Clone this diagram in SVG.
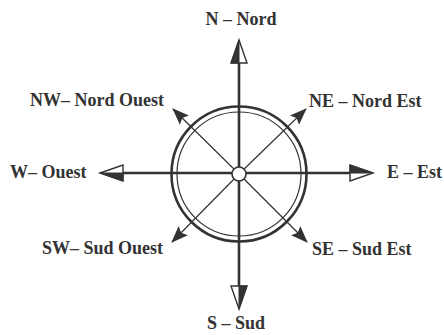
<svg xmlns="http://www.w3.org/2000/svg" width="444" height="335" viewBox="0 0 444 335">
<style>
.lbl{font-family:"Liberation Serif","Times New Roman",serif;font-weight:bold;font-size:18px;fill:#333}
.axis{stroke:#333;stroke-width:2.6;fill:none}
.diag{stroke:#333;stroke-width:1.2;fill:none}
.hw{fill:#fff;stroke:#333;stroke-width:1.4;stroke-linejoin:miter}
.hf{fill:#333;stroke:#333;stroke-width:1}
</style>
<defs>
<marker id="dh" viewBox="0 0 17 13" refX="16" refY="6.5" markerWidth="17" markerHeight="13" markerUnits="userSpaceOnUse" orient="auto">
<path d="M0,0 L17,6.5 L0,13 L3,6.5 Z" fill="#333"/>
</marker>
</defs>
<g id="connectors">
<line class="axis" x1="239" y1="58" x2="239" y2="292"/>
<line class="axis" x1="120" y1="173" x2="356" y2="173"/>
<line class="diag" x1="239" y1="174" x2="306" y2="109" marker-end="url(#dh)"/>
<line class="diag" x1="239" y1="174" x2="173" y2="109" marker-end="url(#dh)"/>
<line class="diag" x1="239" y1="174" x2="172" y2="242" marker-end="url(#dh)"/>
<line class="diag" x1="239" y1="174" x2="307" y2="242" marker-end="url(#dh)"/>
</g>
<g id="rose">
<circle cx="239" cy="174" r="67.5" fill="none" stroke="#333" stroke-width="2.6"/>
<circle cx="239" cy="174" r="62" fill="none" stroke="#333" stroke-width="1.2"/>
<circle cx="239" cy="174" r="7" fill="#fff" stroke="#333" stroke-width="1.6"/>
</g>
<g id="heads">
<polygon class="hw" points="239,40 231,63 247,63"/>
<polygon class="hf" points="239,40 231,63 239,63"/>
<polygon class="hw" points="239,309 231,286 247,286"/>
<polygon class="hf" points="239,309 247,286 239,286"/>
<polygon class="hw" points="373,173 350,165 350,181"/>
<polygon class="hf" points="373,173 350,165 350,173"/>
<polygon class="hw" points="100,173 123,165 123,181"/>
<polygon class="hf" points="100,173 123,181 123,173"/>
</g>
<g id="N"><text class="lbl" x="241" y="25" text-anchor="middle">N – Nord</text></g>
<g id="NE"><text class="lbl" x="309" y="107">NE – Nord Est</text></g>
<g id="E"><text class="lbl" x="387" y="178">E – Est</text></g>
<g id="SE"><text class="lbl" x="312" y="255">SE – Sud Est</text></g>
<g id="S"><text class="lbl" x="236" y="329" text-anchor="middle">S – Sud</text></g>
<g id="SW"><text class="lbl" x="42" y="254">SW– Sud Ouest</text></g>
<g id="W"><text class="lbl" x="10" y="178">W– Ouest</text></g>
<g id="NW"><text class="lbl" x="30" y="106">NW– Nord Ouest</text></g>
</svg>
